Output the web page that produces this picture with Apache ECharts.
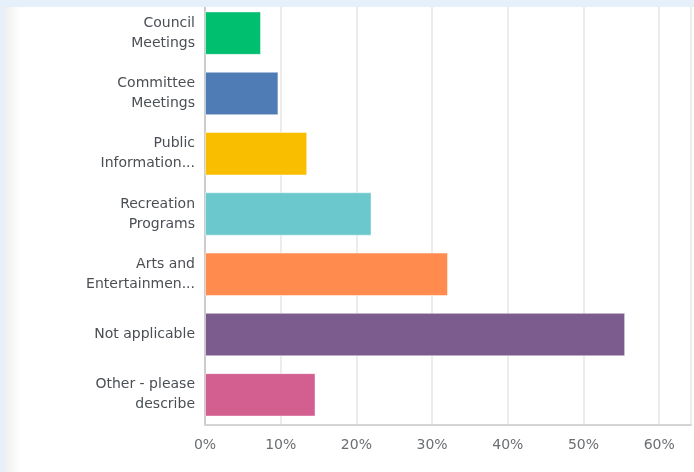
<!DOCTYPE html>
<html>
<head>
<meta charset="utf-8">
<script src="https://cdn.jsdelivr.net/npm/echarts@6/dist/echarts.min.js"></script>
<style>
  html, body { margin: 0; padding: 0; background: #e6f0fb; overflow: hidden; }
  #chart { width: 694px; height: 472px; }
</style>
</head>
<body>
<div id="chart"></div>
<script>
// answer categories, top to bottom
const categories = [
  'Council\nMeetings',
  'Committee\nMeetings',
  'Public\nInformation...',
  'Recreation\nPrograms',
  'Arts and\nEntertainmen...',
  'Not applicable',
  'Other - please\ndescribe'
]
// percent of respondents
const values = [7.4, 9.7, 13.5, 22.0, 32.1, 55.5, 14.6]
const barColors = ['#00bf6f', '#507cb6', '#f9be00', '#6bc8cd', '#ff8b4f', '#7c5c8e', '#d25f8f']
const tickValues = [0, 10, 20, 30, 40, 50, 60]

const chart = echarts.init(document.getElementById('chart'))

chart.setOption({
  backgroundColor: 'transparent',
  animation: false,
  graphic: [
    // white card, soft shadow on its left edge
    {
      type: 'rect', z: -10, silent: true,
      shape: { x: 4, y: 7, width: 690, height: 465 },
      style: { fill: '#ffffff' }
    },
    {
      type: 'rect', z: -9, silent: true,
      shape: { x: 4, y: 7, width: 16, height: 465 },
      style: {
        fill: new echarts.graphic.LinearGradient(0, 0, 1, 0, [
          { offset: 0, color: '#eeeeee' },
          { offset: 1, color: '#ffffff' }
        ])
      }
    },
    // page strip on top covers the grid ends
    {
      type: 'rect', z: 100, silent: true,
      shape: { x: 0, y: 0, width: 694, height: 7 },
      style: { fill: '#e6f0fb' }
    }
  ],
  grid: { left: 205, right: 0, top: 3, bottom: 47, containLabel: false },
  xAxis: {
    type: 'value',
    min: 0,
    max: 64.2,
    interval: 10,
    axisLine: { show: true, lineStyle: { color: '#d4d4d4', width: 2 } },
    axisTick: { show: false },
    splitLine: { lineStyle: { color: '#ececec', width: 2 } },
    axisLabel: {
      color: '#6b6e72',
      fontFamily: 'DejaVu Sans',
      fontSize: 14,
      margin: 13,
      formatter: v => tickValues.includes(v) ? v + '%' : ''
    }
  },
  yAxis: {
    type: 'category',
    inverse: true,
    data: categories,
    axisLine: { show: true, lineStyle: { color: '#cccccc', width: 2 } },
    axisTick: { show: false },
    axisLabel: {
      color: '#4b4f54',
      fontFamily: 'DejaVu Sans',
      fontSize: 14,
      lineHeight: 20,
      align: 'right',
      margin: 10
    }
  },
  series: [{
    type: 'bar',
    data: values.map((v, i) => ({
      value: v,
      itemStyle: { color: barColors[i] }
    })),
    barCategoryGap: '28%',
    itemStyle: { borderColor: 'rgba(255,255,255,0.45)', borderWidth: 1 }
  }]
})
</script>
</body>
</html>
